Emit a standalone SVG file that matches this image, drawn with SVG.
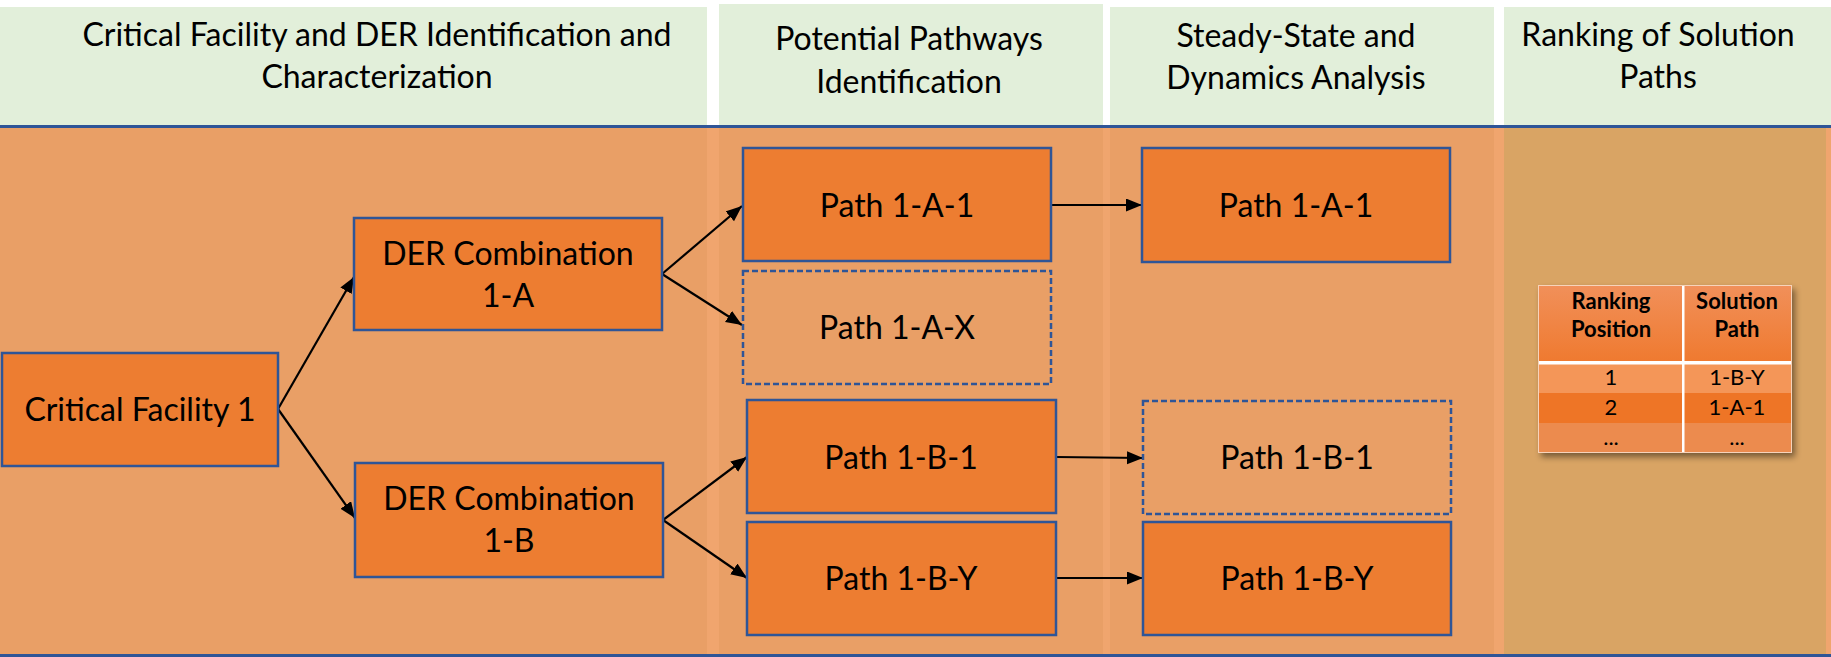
<svg xmlns="http://www.w3.org/2000/svg" width="1831" height="657" viewBox="0 0 1831 657">
<style>
.hdr{fill:#E2EFDA}
.body{fill:#E99F66}
.t{font-family:Lato,"Open Sans","Liberation Sans",sans-serif;font-size:32px;fill:#000;text-anchor:middle}
.box{fill:#ED7D31;stroke:#2F5597;stroke-width:2.5}
.dash{fill:none;stroke:#2F5597;stroke-width:2.5;stroke-dasharray:6 3}
.con{stroke:#000;stroke-width:2.2;fill:none;marker-end:url(#arr)}
.tb{font-family:Lato,"Open Sans","Liberation Sans",sans-serif;font-size:22px;fill:#000;text-anchor:middle}
</style>
<defs>
<marker id="arr" markerUnits="userSpaceOnUse" markerWidth="17" markerHeight="14" refX="16" refY="6.5" orient="auto">
<path d="M0,0 L16,6.5 L0,13 z" fill="#000"/>
</marker>
<linearGradient id="hg" x1="0" y1="0" x2="0" y2="1">
<stop offset="0" stop-color="#F1905A"/>
<stop offset="1" stop-color="#EF7A30"/>
</linearGradient>
<filter id="sh" x="-10%" y="-10%" width="125%" height="130%">
<feDropShadow dx="3" dy="4" stdDeviation="3" flood-color="#000" flood-opacity="0.45"/>
</filter>
</defs>
<g id="background">
<rect x="0" y="0" width="1831" height="657" fill="#FFFFFF"/>
<rect x="0" y="7" width="707" height="118" class="hdr"/>
<rect x="719" y="4" width="384" height="121" class="hdr"/>
<rect x="1110" y="7" width="384" height="118" class="hdr"/>
<rect x="1504" y="7" width="327" height="118" class="hdr"/>
<rect x="0" y="128" width="1831" height="526" fill="#F0A56E"/>
<rect x="0" y="128" width="707" height="526" class="body"/>
<rect x="719" y="128" width="384" height="526" class="body"/>
<rect x="1110" y="128" width="384" height="526" class="body"/>
<rect x="1504" y="128" width="322" height="526" fill="#D9A464"/>
<rect x="0" y="125" width="1831" height="3" fill="#2F5597"/>
<rect x="0" y="654" width="1831" height="3" fill="#2F5597"/>
</g>
<g id="headers">
<text class="t" x="377" y="46">Critical Facility and DER Identification and</text>
<text class="t" x="377" y="88">Characterization</text>
<text class="t" x="909" y="50">Potential Pathways</text>
<text class="t" x="909" y="93">Identification</text>
<text class="t" x="1296" y="47">Steady-State and</text>
<text class="t" x="1296" y="89">Dynamics Analysis</text>
<text class="t" x="1658" y="46">Ranking of Solution</text>
<text class="t" x="1658" y="88">Paths</text>
</g>
<g id="connectors">
<line class="con" x1="278" y1="409" x2="354" y2="277"/>
<line class="con" x1="278" y1="409" x2="355" y2="518"/>
<line class="con" x1="662" y1="274" x2="742" y2="206"/>
<line class="con" x1="662" y1="274" x2="742" y2="325"/>
<line class="con" x1="663" y1="520" x2="747" y2="457"/>
<line class="con" x1="663" y1="520" x2="747" y2="578"/>
<line class="con" x1="1051" y1="205" x2="1142" y2="205"/>
<line class="con" x1="1056" y1="457" x2="1143" y2="458"/>
<line class="con" x1="1056" y1="578" x2="1143" y2="578"/>
</g>
<g id="cf1">
<rect class="box" x="2" y="353" width="276" height="113"/>
<text class="t" x="140" y="421">Critical Facility 1</text>
</g>
<g id="der1a">
<rect class="box" x="354" y="218" width="308" height="112"/>
<text class="t" x="508" y="265">DER Combination</text>
<text class="t" x="508" y="307">1-A</text>
</g>
<g id="der1b">
<rect class="box" x="355" y="463" width="308" height="114"/>
<text class="t" x="509" y="510">DER Combination</text>
<text class="t" x="509" y="552">1-B</text>
</g>
<g id="p1a1">
<rect class="box" x="743" y="148" width="308" height="113"/>
<text class="t" x="897" y="217">Path 1-A-1</text>
</g>
<g id="p1ax">
<rect class="dash" x="743" y="271" width="308" height="113"/>
<text class="t" x="897" y="339">Path 1-A-X</text>
</g>
<g id="p1b1">
<rect class="box" x="747" y="400" width="309" height="113"/>
<text class="t" x="901" y="469">Path 1-B-1</text>
</g>
<g id="p1by">
<rect class="box" x="747" y="522" width="309" height="113"/>
<text class="t" x="901" y="590">Path 1-B-Y</text>
</g>
<g id="s1a1">
<rect class="box" x="1142" y="148" width="308" height="114"/>
<text class="t" x="1296" y="217">Path 1-A-1</text>
</g>
<g id="s1b1">
<rect class="dash" x="1143" y="401" width="308" height="113"/>
<text class="t" x="1297" y="469">Path 1-B-1</text>
</g>
<g id="s1by">
<rect class="box" x="1143" y="522" width="308" height="113"/>
<text class="t" x="1297" y="590">Path 1-B-Y</text>
</g>
<g id="ranking-table">
<g filter="url(#sh)">
<rect x="1538" y="285" width="254" height="168" fill="#EC8B4E"/>
</g>
<rect x="1538" y="285" width="254" height="76" fill="url(#hg)"/>
<rect x="1538" y="364" width="254" height="29" fill="#F49658"/>
<rect x="1538" y="393" width="254" height="30" fill="#EE7526"/>
<rect x="1538" y="423" width="254" height="30" fill="#EC8B4E"/>
<rect x="1538" y="361" width="254" height="3.5" fill="#FFFFFF"/>
<rect x="1682" y="285" width="2.5" height="168" fill="#FFFFFF"/>
<rect x="1538.5" y="285.5" width="253" height="167" fill="none" stroke="#F7D3BA" stroke-width="1"/>
<text class="tb" x="1611" y="309" font-weight="bold">Ranking</text>
<text class="tb" x="1611" y="337" font-weight="bold">Position</text>
<text class="tb" x="1737" y="309" font-weight="bold">Solution</text>
<text class="tb" x="1737" y="337" font-weight="bold">Path</text>
<text class="tb" x="1611" y="385">1</text>
<text class="tb" x="1737" y="385">1-B-Y</text>
<text class="tb" x="1611" y="415">2</text>
<text class="tb" x="1737" y="415">1-A-1</text>
<text class="tb" x="1611" y="445">...</text>
<text class="tb" x="1737" y="445">...</text>
</g>
</svg>
